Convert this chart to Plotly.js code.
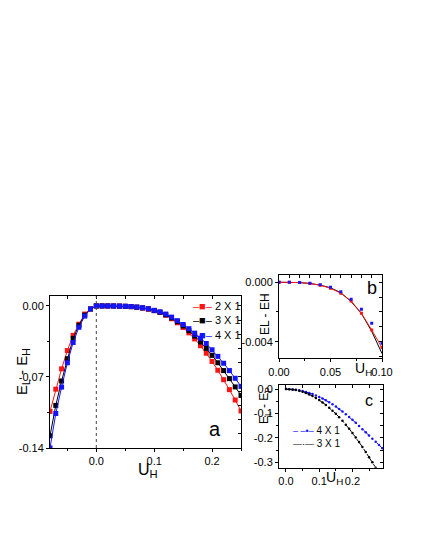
<!DOCTYPE html>
<html>
<head>
<meta charset="utf-8">
<script src="https://cdn.plot.ly/plotly-3.0.1.min.js"></script>
<style>html,body{margin:0;padding:0;background:#fff;}#chart{width:425px;height:550px;}</style>
</head>
<body>
<div id="chart"></div>
<script>
// ---------- Panel a ----------
const aX = [-0.08,-0.07,-0.06,-0.05,-0.04,-0.03,-0.02,-0.01,0,0.01,0.02,0.03,0.04,0.05,0.06,0.07,0.08,0.09,0.10,0.11,0.12,0.13,0.14,0.15,0.16,0.17,0.18,0.19,0.20,0.21,0.22,0.23,0.24,0.25];
const aRed = [-0.104,-0.082,-0.062,-0.044,-0.029,-0.018,-0.008,-0.003,0,0,-0.00002,-0.00008,-0.0002,-0.0004,-0.00074,-0.00126,-0.00209,-0.00321,-0.0046,-0.0064,-0.0092,-0.0126,-0.0166,-0.0212,-0.0265,-0.0325,-0.0392,-0.0466,-0.0547,-0.0634,-0.0727,-0.0825,-0.0927,-0.1035];
const aBlack = [-0.128,-0.098,-0.074,-0.052,-0.032,-0.019,-0.009,-0.003,0,0,-0.00002,-0.00007,-0.00017,-0.00035,-0.00066,-0.0012,-0.0019,-0.0029,-0.0046,-0.0062,-0.0087,-0.0118,-0.0155,-0.0197,-0.0244,-0.0297,-0.0355,-0.0418,-0.0487,-0.056,-0.0637,-0.0716,-0.0798,-0.0882];
const aBlue = [-0.14,-0.106,-0.080,-0.056,-0.036,-0.021,-0.010,-0.003,0,0,-0.00002,-0.00007,-0.00016,-0.00034,-0.00063,-0.00115,-0.00182,-0.00276,-0.0043,-0.0058,-0.008,-0.011,-0.0145,-0.0183,-0.0224,-0.0268,-0.0318,-0.037,-0.0432,-0.0497,-0.0565,-0.0637,-0.0713,-0.0793];
const aNames = ["2 X 1","3 X 1","4 X 1"];
const aXTickVals = [0,0.1,0.2];
const aXTickText = ["0.0","0.1","0.2"];
const aYTickVals = [0,-0.07,-0.14];
const aYTickText = ["0.00","-0.07","-0.14"];

// ---------- Panel b ----------
const bX = [0,0.01,0.02,0.03,0.04,0.05,0.06,0.07,0.08,0.09,0.10];
const bRed = [0,0,-0.00002,-0.00008,-0.0002,-0.0004,-0.00074,-0.00126,-0.00209,-0.00321,-0.0044];
const bBlue = [0,0,-0.00002,-0.00007,-0.00016,-0.00034,-0.00063,-0.00115,-0.00182,-0.00276,-0.0041];
const bBlack = [0,0,-0.00002,-0.00008,-0.00019,-0.00037,-0.0007,-0.0013,-0.0021,-0.0033,-0.0048];
const bXTickVals = [0,0.05,0.1];
const bXTickText = ["0.00","0.05","0.10"];
const bYTickVals = [0,-0.004];
const bYTickText = ["0.000","-0.004"];

// ---------- Panel c ----------
const cX = [0,0.01,0.02,0.03,0.04,0.05,0.06,0.07,0.08,0.09,0.10,0.11,0.12,0.13,0.14,0.15,0.16,0.17,0.18,0.19,0.20,0.21,0.22,0.23,0.24,0.25,0.26,0.27,0.28,0.29];
const cBlue = [0,-0.0003,-0.0013,-0.0029,-0.0052,-0.0081,-0.0116,-0.0158,-0.0206,-0.026,-0.032,-0.0387,-0.046,-0.054,-0.0625,-0.0717,-0.0815,-0.092,-0.103,-0.114,-0.126,-0.138,-0.151,-0.164,-0.177,-0.190,-0.203,-0.216,-0.229,-0.242];
const cBlack = [0,-0.0005,-0.0018,-0.004,-0.0072,-0.0112,-0.0162,-0.022,-0.0288,-0.0365,-0.045,-0.0545,-0.0648,-0.076,-0.0882,-0.101,-0.115,-0.130,-0.146,-0.162,-0.180,-0.198,-0.217,-0.237,-0.258,-0.279,-0.300,-0.322];
const cNames = ["4 X 1","3 X 1"];
const cXTickVals = [0,0.1,0.2];
const cXTickText = ["0.0","0.1","0.2"];
const cYTickVals = [0,-0.1,-0.2,-0.3];
const cYTickText = ["0.0","-0.1","-0.2","-0.3"];

const RED = 'rgb(255,20,20)', BLUE = 'rgb(20,20,255)', BLACK = 'rgb(0,0,0)';

const traces = [
  {x:aX, y:aRed, name:aNames[0], mode:'lines+markers', line:{color:RED,width:1}, marker:{symbol:'square',size:5,color:RED}, xaxis:'x', yaxis:'y'},
  {x:aX, y:aBlack, name:aNames[1], mode:'lines+markers', line:{color:BLACK,width:1}, marker:{symbol:'square',size:5,color:BLACK}, xaxis:'x', yaxis:'y'},
  {x:aX, y:aBlue, name:aNames[2], mode:'lines+markers', line:{color:BLUE,width:1}, marker:{symbol:'square',size:5,color:BLUE}, xaxis:'x', yaxis:'y'},

  {x:bX, y:bBlack, mode:'lines', line:{color:BLACK,width:1}, xaxis:'x2', yaxis:'y2'},
  {x:bX, y:bRed, mode:'lines+markers', line:{color:RED,width:1}, marker:{symbol:'square',size:3,color:RED}, xaxis:'x2', yaxis:'y2'},
  {x:bX, y:bBlue, mode:'markers', marker:{symbol:'square',size:3,color:BLUE}, xaxis:'x2', yaxis:'y2'},

  {x:cX, y:cBlue, name:cNames[0], mode:'lines+markers', line:{color:BLUE,width:1,dash:'dash'}, marker:{size:2.5,color:BLUE}, xaxis:'x3', yaxis:'y3'},
  {x:cX, y:cBlack, name:cNames[1], mode:'lines+markers', line:{color:BLACK,width:1,dash:'dashdot'}, marker:{size:2.5,color:BLACK}, xaxis:'x3', yaxis:'y3'},

  // empty traces to activate the mirrored inward-tick axes
  {x:[], y:[], xaxis:'x4', yaxis:'y', hoverinfo:'skip'},
  {x:[], y:[], xaxis:'x', yaxis:'y4', hoverinfo:'skip'},
  {x:[], y:[], xaxis:'x5', yaxis:'y2', hoverinfo:'skip'},
  {x:[], y:[], xaxis:'x2', yaxis:'y5', hoverinfo:'skip'},
  {x:[], y:[], xaxis:'x6', yaxis:'y3', hoverinfo:'skip'},
  {x:[], y:[], xaxis:'x3', yaxis:'y6', hoverinfo:'skip'}
];

function mainAxis(domain, range, anchor, tv, tt, minorDtick) {
  return {domain:domain, range:range, anchor:anchor, tickmode:'array', tickvals:tv, ticktext:tt,
    ticks:'outside', ticklen:3, tickwidth:1, tickcolor:'black', showline:true, mirror:true, linecolor:'black', linewidth:1,
    showgrid:false, zeroline:false, tickfont:{size:11, color:'black'},
    minor:{tickmode:'linear', tick0:0, dtick:minorDtick, ticks:'outside', ticklen:2, tickcolor:'black', showgrid:false}};
}
function overAxis(over, side, anchor, range, dtick) {
  return {overlaying:over, side:side, anchor:anchor, range:range, tickmode:'linear', tick0:0, dtick:dtick,
    ticks:'inside', ticklen:3, tickcolor:'black', showticklabels:false, showline:false, showgrid:false, zeroline:false};
}

const P = (px) => px/425;
const Q = (py) => (550-py)/550;
function note(text, px, py, size, extra) {
  return Object.assign({text:text, x:P(px), y:Q(py), xref:'paper', yref:'paper', showarrow:false,
    xanchor:'center', yanchor:'middle', font:{size:size, color:'black'}}, extra || {});
}
function legendBlock(rows, px, py, size) {
  const text = rows.map(r => '<span style="color:' + r[1] + ';font-size:' + r[3] + 'px">' + r[0] + '</span> ' + r[2]).join('<br>');
  return note(text, px, py, size, {xanchor:'left', align:'left'});
}

const aXR = [-0.08,0.25], aYR = [-0.14,0.0098];
const bXR = [0,0.1], bYR = [-0.00512,0.00051];
const cXR = [-0.021,0.292], cYR = [-0.322,0.018];

const layout = {
  width:425, height:550, margin:{l:0,r:0,t:0,b:0},
  paper_bgcolor:'white', plot_bgcolor:'white', showlegend:false,
  font:{family:'"Liberation Sans", Arial, sans-serif', size:11, color:'black'},
  xaxis: mainAxis([P(50),P(241)], aXR, 'y', aXTickVals, aXTickText, 0.05),
  yaxis: mainAxis([Q(448),Q(296)], aYR, 'x', aYTickVals, aYTickText, 0.035),
  xaxis2: mainAxis([P(279),P(382)], bXR, 'y2', bXTickVals, bXTickText, 0.025),
  yaxis2: mainAxis([Q(358.3),Q(274.7)], bYR, 'x2', bYTickVals, bYTickText, 0.002),
  xaxis3: mainAxis([P(279),P(383)], cXR, 'y3', cXTickVals, cXTickText, 0.05),
  yaxis3: mainAxis([Q(467.7),Q(384.7)], cYR, 'x3', cYTickVals, cYTickText, 0.05),
  xaxis4: overAxis('x','top','y',aXR,0.05),
  yaxis4: overAxis('y','right','x',aYR,0.014),
  xaxis5: overAxis('x2','top','y2',bXR,0.01),
  yaxis5: overAxis('y2','right','x2',bYR,0.001),
  xaxis6: overAxis('x3','top','y3',cXR,0.05),
  yaxis6: overAxis('y3','right','x3',cYR,0.05),
  shapes:[{type:'line', xref:'x', yref:'y domain', x0:0, x1:0, y0:0, y1:1, line:{color:'#444', width:1, dash:'dot'}}],
  annotations:[
    note('E<sub>L</sub> - E<sub>H</sub>', 22, 372, 15, {textangle:-90}),
    note('U<sub>H</sub>', 148, 470, 16),
    note('a', 215, 429, 20),
    note('EL - EH', 265, 314, 12, {textangle:-90}),
    note('U<sub>H</sub>', 363, 369, 14),
    note('b', 372, 288, 18),
    note('E<sub>L</sub> - E<sub>P</sub>', 265, 406, 12, {textangle:-90}),
    note('U<sub>H</sub>', 334, 478, 14),
    note('c', 369, 401, 16),
    legendBlock([['–■–', RED, aNames[0], 11], ['–■–', BLACK, aNames[1], 11], ['–■–', BLUE, aNames[2], 11]], 191, 320, 11),
    legendBlock([['‒ ‒•‒', BLUE, cNames[0], 9], ['—·—', BLACK, cNames[1], 9]], 291, 437, 10)
  ]
};

Plotly.newPlot('chart', traces, layout, {staticPlot:true, displayModeBar:false});
</script>
</body>
</html>
